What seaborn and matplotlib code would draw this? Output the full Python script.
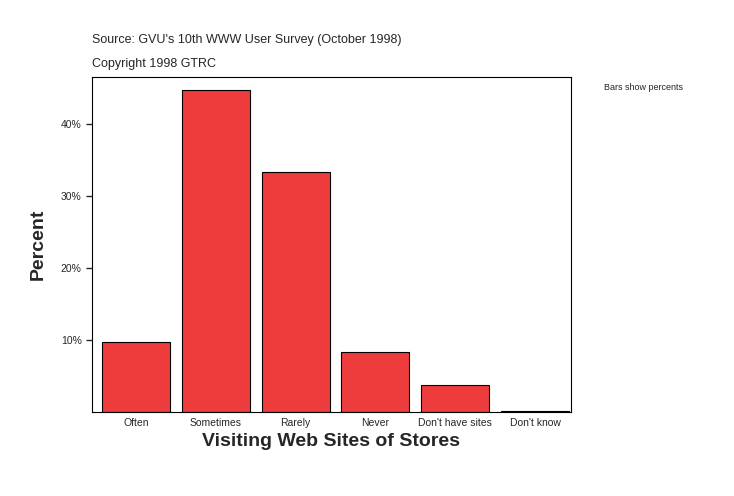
import matplotlib
matplotlib.use("Agg")
import matplotlib.pyplot as plt
import seaborn as sns
import pandas as pd

categories = ["Often", "Sometimes", "Rarely", "Never", "Don't have sites", "Don't know"]
percents = [9.7, 44.7, 33.3, 8.3, 3.8, 0.15]
yticks = [10, 20, 30, 40]
ytick_labels = ["10%", "20%", "30%", "40%"]

sns.set_style("white")
plt.rcParams['font.family'] = ['Liberation Sans', 'DejaVu Sans']

fig = plt.figure(figsize=(7.34, 4.96), dpi=100)
ax = fig.add_axes([92/734, 1-412/496, (571-92)/734, (412-77)/496])
df = pd.DataFrame({"cat": categories, "pct": percents})
sns.barplot(data=df, x="cat", y="pct", ax=ax, color="#EE3B3B", saturation=1,
            width=0.85, edgecolor="black", linewidth=0.8)
ax.set_ylim(0, 46.5)
ax.set_xlim(-0.55, 5.45)
ax.set_yticks(yticks)
ax.set_yticklabels(ytick_labels, fontsize=7.5)
ax.tick_params(axis='x', labelsize=7.5, length=0, pad=4)
ax.tick_params(axis='y', length=4, width=1, direction='out', left=True)
for s in ax.spines.values():
    s.set_linewidth(0.8); s.set_color("black")
ax.set_xlabel("Visiting Web Sites of Stores", fontsize=14, fontweight='bold', labelpad=4)
ax.set_ylabel("Percent", fontsize=14, fontweight='bold', labelpad=10)
fig.text(92/734, 1-40/496, "Source: GVU's 10th WWW User Survey (October 1998)", fontsize=9, va='center')
fig.text(92/734, 1-64/496, "Copyright 1998 GTRC", fontsize=9, va='center')
fig.text(604/734, 1-87/496, "Bars show percents", fontsize=6.5, va='center')
fig.savefig("out.png", dpi=100)
